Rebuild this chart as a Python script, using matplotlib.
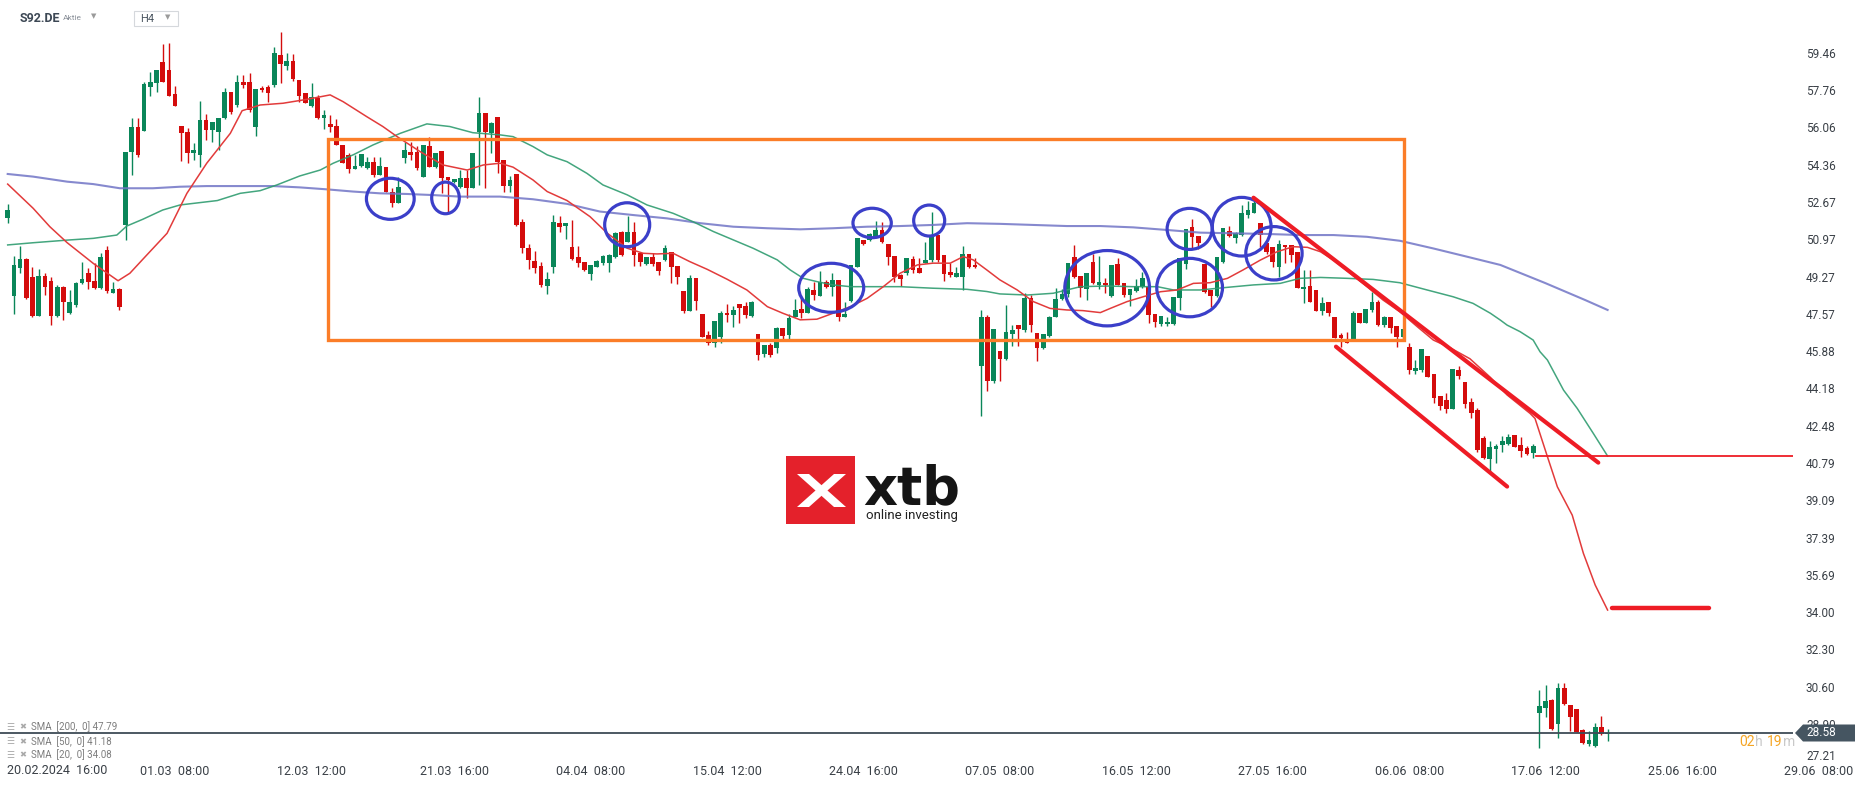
import matplotlib
matplotlib.use("Agg")
import matplotlib.pyplot as plt
from matplotlib.patches import Rectangle, Ellipse, Polygon
import numpy as np

plt.rcParams['font.family'] = ['Roboto', 'DejaVu Sans']

# S92.DE H4 candles (index 0 = first candle on the left)
opens = [51.99, 48.46, 49.72, 50.13, 49.34, 47.55, 49.37, 49.14, 47.55, 48.88,
         47.70, 48.05, 49.03, 49.49, 49.14, 48.81, 50.55, 48.61, 48.76, 51.69,
         55.03, 56.13, 55.98, 57.99, 58.17, 59.12, 58.74, 57.65, 56.20, 55.92,
         54.95, 54.88, 56.47, 56.01, 55.94, 56.54, 57.76, 57.15, 58.21, 58.21,
         56.13, 57.91, 57.99, 58.06, 59.43, 58.94, 59.15, 58.29, 57.68, 57.10,
         57.45, 56.57, 56.29, 56.20, 55.33, 54.88, 54.22, 54.39, 54.27, 54.54,
         53.97, 54.35, 53.21, 52.68, 54.72, 55.03, 55.03, 53.89, 55.28, 54.35,
         55.06, 53.86, 53.66, 53.43, 53.81, 53.36, 55.94, 56.77, 55.86, 56.62,
         54.65, 53.47, 54.01, 51.81, 50.63, 50.05, 49.82, 48.93, 49.79, 51.77,
         51.66, 50.67, 50.22, 50.02, 49.46, 49.79, 49.95, 49.98, 50.22, 51.36,
         50.93, 51.36, 50.43, 49.92, 50.22, 49.99, 50.10, 50.48, 49.82, 48.70,
         47.79, 49.26, 47.64, 46.68, 46.30, 46.61, 47.70, 47.59, 48.09, 48.02,
         47.55, 46.73, 45.82, 46.23, 46.11, 47.02, 46.68, 47.52, 47.87, 47.70,
         48.73, 48.46, 49.08, 48.85, 49.19, 47.52, 48.25, 49.79, 51.01, 51.01,
         51.11, 51.46, 50.82, 50.28, 49.41, 49.49, 50.13, 49.72, 49.98, 50.10,
         51.24, 50.32, 49.57, 49.34, 49.34, 50.37, 49.87, 45.27, 47.52, 44.60,
         45.97, 45.59, 46.73, 47.13, 46.91, 48.35, 46.76, 46.07, 46.63, 47.51,
         48.30, 48.55, 50.21, 49.36, 48.76, 50.02, 48.96, 49.03, 48.46, 49.90,
         49.03, 48.50, 48.70, 48.85, 48.85, 47.64, 47.18, 47.18, 47.18, 48.35,
         49.91, 51.58, 51.19, 49.91, 48.73, 48.47, 50.02, 51.43, 51.08, 51.23,
         52.14, 52.25, 51.76, 50.88, 50.67, 49.76, 50.78, 50.78, 50.47, 48.76,
         48.91, 48.73, 47.79, 48.20, 47.51, 46.68, 46.48, 46.48, 47.67, 47.24,
         47.82, 48.20, 47.13, 47.48, 47.09, 46.57, 46.15, 45.06, 45.09, 45.72,
         44.90, 43.90, 43.72, 43.29, 45.08, 44.55, 43.64, 43.26, 42.00, 41.05,
         41.49, 41.67, 41.72, 42.12, 41.67, 41.52, 41.29, 29.49, 29.69, 30.07,
         28.96, 30.60, 29.84, 29.64, 28.70, 28.05, 27.99, 28.85, 28.52]
highs = [52.64, 50.28, 50.73, 50.20, 49.79, 49.67, 49.49, 49.34, 48.96, 48.90,
         48.73, 49.11, 50.02, 49.72, 49.94, 50.40, 50.73, 49.11, 48.81, 55.00,
         56.54, 56.54, 58.21, 58.67, 58.74, 59.93, 59.99, 58.02, 56.20, 56.09,
         55.41, 57.35, 56.74, 56.39, 56.54, 57.91, 57.76, 58.52, 58.52, 58.62,
         57.88, 58.00, 58.06, 59.81, 60.49, 59.50, 59.46, 58.29, 57.68, 58.17,
         57.60, 56.92, 56.70, 56.50, 55.33, 54.95, 54.88, 54.92, 54.80, 54.80,
         54.80, 54.35, 53.36, 53.89, 55.48, 55.48, 55.28, 55.33, 55.71, 54.95,
         55.06, 53.86, 53.77, 54.19, 54.19, 54.95, 57.53, 56.77, 56.39, 56.62,
         54.65, 53.92, 54.01, 51.95, 50.82, 50.51, 50.02, 49.57, 52.14, 52.10,
         51.77, 51.92, 50.73, 50.02, 49.87, 50.10, 50.32, 50.37, 51.39, 51.43,
         52.10, 51.81, 50.43, 50.22, 50.40, 50.02, 50.78, 50.48, 49.82, 48.70,
         49.41, 49.26, 47.64, 46.84, 47.34, 47.75, 48.09, 48.00, 48.09, 48.20,
         48.23, 46.73, 46.23, 46.30, 47.06, 47.02, 47.62, 48.31, 48.43, 48.85,
         49.11, 49.60, 49.19, 49.52, 49.19, 48.16, 49.87, 51.08, 51.01, 51.34,
         51.89, 51.81, 50.82, 50.28, 49.46, 50.17, 50.28, 50.17, 50.93, 52.30,
         51.24, 50.32, 49.98, 49.79, 50.73, 50.37, 50.17, 47.82, 47.59, 46.95,
         45.97, 48.05, 47.13, 47.13, 48.61, 48.50, 46.76, 46.72, 47.54, 48.80,
         48.76, 49.97, 50.78, 49.36, 49.49, 50.37, 50.28, 49.26, 49.87, 50.17,
         49.03, 48.76, 49.21, 49.56, 48.85, 47.64, 47.54, 47.51, 48.42, 50.17,
         51.49, 51.96, 51.19, 49.91, 48.73, 50.21, 51.53, 51.64, 51.38, 52.60,
         52.79, 52.90, 51.76, 50.88, 50.67, 51.00, 50.78, 50.78, 50.47, 49.64,
         49.64, 48.73, 48.42, 48.20, 47.51, 46.79, 46.83, 47.77, 47.67, 47.85,
         48.65, 48.27, 47.54, 47.48, 47.09, 46.94, 46.30, 45.54, 46.04, 45.72,
         44.90, 43.90, 44.02, 45.13, 45.27, 44.55, 43.79, 43.34, 42.08, 41.87,
         41.72, 42.08, 42.17, 42.12, 42.05, 41.62, 41.72, 30.52, 30.75, 30.10,
         30.86, 30.86, 29.84, 29.64, 28.73, 28.66, 29.00, 29.35, 28.76]
lows = [51.80, 47.64, 49.50, 48.30, 47.52, 47.55, 48.50, 47.14, 47.52, 47.37,
        47.64, 47.97, 49.00, 48.76, 48.76, 48.76, 48.61, 48.58, 47.82, 51.01,
        53.96, 54.80, 55.98, 57.56, 57.76, 58.21, 57.56, 57.10, 54.62, 54.53,
        54.65, 54.34, 55.56, 55.48, 55.10, 56.51, 56.74, 57.04, 57.91, 56.85,
        55.74, 57.76, 57.30, 57.99, 58.17, 58.74, 58.26, 57.30, 57.23, 57.04,
        56.50, 56.06, 55.94, 55.33, 54.50, 54.04, 54.22, 54.35, 54.22, 53.89,
        53.97, 53.20, 52.52, 52.68, 54.53, 54.65, 54.19, 53.89, 54.35, 54.27,
        53.16, 52.22, 53.59, 53.36, 52.90, 53.36, 53.51, 53.36, 54.95, 54.04,
        53.21, 53.21, 51.64, 50.40, 49.69, 49.52, 48.88, 48.55, 49.52, 51.39,
        51.04, 50.10, 49.79, 49.61, 49.19, 49.76, 49.87, 49.57, 50.17, 50.28,
        50.90, 49.84, 49.84, 49.87, 49.82, 49.41, 50.07, 49.04, 49.00, 47.67,
        47.79, 47.82, 46.61, 46.23, 46.15, 46.30, 47.29, 47.06, 47.21, 47.44,
        47.52, 45.52, 45.67, 45.67, 45.85, 46.49, 46.49, 47.49, 47.44, 47.70,
        48.28, 48.46, 48.81, 48.46, 47.34, 47.49, 48.20, 49.76, 50.78, 50.98,
        51.08, 50.89, 49.87, 49.11, 48.91, 49.41, 49.52, 49.49, 49.98, 50.02,
        50.02, 49.16, 49.34, 49.31, 48.73, 49.72, 49.72, 43.00, 44.15, 44.51,
        44.60, 45.54, 46.19, 46.19, 46.83, 46.83, 45.51, 46.03, 46.60, 47.48,
        48.27, 48.42, 49.26, 48.42, 48.27, 49.00, 48.76, 48.58, 48.42, 48.96,
        48.42, 48.01, 48.65, 48.80, 47.21, 47.06, 47.09, 47.09, 47.13, 47.82,
        49.67, 50.62, 50.58, 48.61, 47.94, 48.42, 49.97, 51.13, 50.88, 51.19,
        51.99, 52.22, 50.70, 50.37, 49.79, 49.33, 49.94, 50.02, 48.80, 48.12,
        48.20, 47.79, 47.59, 47.54, 46.53, 46.12, 46.30, 46.48, 47.24, 47.21,
        47.74, 47.09, 47.06, 46.79, 46.15, 46.53, 44.90, 44.90, 45.01, 44.75,
        43.60, 43.27, 43.14, 43.29, 44.66, 43.34, 42.88, 41.37, 41.05, 40.46,
        40.87, 41.37, 41.67, 41.59, 41.14, 41.22, 41.09, 27.90, 29.31, 28.70,
        28.35, 29.84, 28.67, 28.60, 28.05, 27.99, 27.94, 28.47, 28.20]
closes = [52.37, 49.87, 50.13, 48.38, 47.55, 49.37, 48.88, 47.55, 48.88, 48.20,
          48.17, 49.03, 49.23, 49.11, 48.81, 50.22, 48.70, 48.76, 47.94, 55.00,
          56.13, 54.88, 58.11, 58.21, 58.74, 58.21, 57.56, 57.12, 55.86, 54.95,
          55.10, 56.47, 56.01, 56.39, 56.54, 57.76, 56.85, 58.21, 58.06, 56.92,
          57.88, 57.83, 57.68, 59.50, 59.00, 59.15, 58.32, 57.56, 57.26, 57.53,
          56.54, 56.68, 56.17, 55.33, 54.53, 54.22, 54.39, 54.92, 54.54, 53.97,
          54.39, 53.21, 52.68, 53.43, 55.10, 54.88, 54.27, 55.33, 54.35, 54.95,
          53.81, 53.74, 53.77, 53.81, 53.36, 54.95, 56.77, 55.94, 56.35, 54.57,
          53.47, 53.74, 51.69, 50.63, 50.10, 49.75, 48.96, 49.22, 51.81, 51.61,
          51.77, 50.14, 49.98, 49.64, 49.87, 50.05, 50.28, 50.32, 51.31, 50.32,
          51.36, 50.30, 50.02, 50.22, 49.92, 49.61, 50.63, 49.79, 49.34, 47.79,
          49.26, 48.25, 46.61, 46.30, 47.34, 47.70, 47.59, 47.82, 47.93, 47.59,
          48.16, 45.77, 46.23, 45.77, 46.99, 46.64, 47.44, 47.82, 47.70, 48.78,
          48.50, 49.11, 48.85, 49.19, 47.52, 47.64, 49.87, 51.08, 50.81, 51.28,
          51.46, 50.93, 50.22, 49.34, 49.22, 50.17, 49.64, 49.52, 50.10, 51.24,
          50.10, 49.46, 49.41, 49.49, 50.37, 49.79, 49.76, 47.52, 44.60, 46.95,
          45.59, 46.82, 46.91, 46.95, 48.35, 47.13, 46.07, 46.72, 47.51, 48.32,
          48.55, 49.97, 49.33, 48.80, 49.49, 49.03, 49.09, 48.96, 49.87, 48.96,
          48.50, 48.76, 48.91, 49.26, 47.59, 47.29, 47.54, 47.29, 48.42, 50.17,
          51.49, 51.13, 50.88, 48.65, 48.47, 50.21, 51.53, 51.19, 51.31, 52.25,
          52.37, 52.67, 51.23, 50.47, 50.02, 50.81, 50.67, 50.32, 48.80, 48.88,
          48.20, 47.79, 48.15, 47.67, 46.53, 46.53, 46.30, 47.70, 47.24, 47.85,
          48.20, 47.13, 47.51, 46.98, 46.57, 46.94, 45.09, 45.16, 46.04, 44.75,
          43.80, 43.45, 43.29, 45.13, 44.81, 43.54, 43.14, 41.44, 41.09, 41.59,
          41.64, 41.87, 42.05, 41.59, 41.40, 41.26, 41.62, 29.79, 30.02, 28.73,
          30.60, 29.87, 29.28, 28.63, 28.10, 28.25, 28.85, 28.52, 28.58]

# moving averages (candle index, value)
sma20_idx = [0, 4.1, 6.8, 9.6, 13.8, 17.8, 19.7, 21.8, 25.7, 28.9, 32.1, 35.9, 37.8,
             40.7, 44.4, 48.3, 52.0, 54.1, 57.9, 60.5, 62.8, 66.5, 70.2, 74.1, 76.7,
             79.4, 81.5, 84.7, 87.0, 90.2, 93.9, 96.7, 99.9, 102.5, 104.7, 107.3,
             110.0, 112.8, 116.0, 119.2, 122.5, 125.0, 127.8, 130.5, 133.1, 135.9,
             138.6, 141.2, 143.9, 146.7, 149.2, 152.0, 154.1, 155.7, 157.9, 160.0,
             162.8, 165.4, 168.1, 170.8, 173.4, 176.2, 177.8, 180.5, 183.1, 185.9,
             188.6, 191.2, 193.9, 196.7, 199.2, 202.0, 204.7, 207.3, 209.6, 211.7,
             213.8, 216.5, 219.2, 221.8, 224.5, 227.3, 229.9, 232.6, 235.8, 239.1,
             241.8, 245.5, 246.3, 248.3, 249.9, 252.3, 254.1, 256.0, 258.0]
sma20_val = [53.55, 52.45, 51.61, 50.88, 49.94, 49.15, 49.49, 50.13, 51.31, 53.13,
             54.50, 55.86, 56.89, 57.15, 57.23, 57.41, 57.61, 57.30, 56.62, 56.17,
             55.71, 55.03, 54.42, 54.19, 54.42, 54.50, 54.32, 53.74, 53.21, 52.80,
             52.07, 51.31, 50.63, 50.40, 50.37, 50.40, 50.02, 49.67, 49.22, 48.73,
             47.97, 47.67, 47.37, 47.40, 47.67, 47.97, 48.35, 48.88, 49.49, 49.87,
             49.95, 49.95, 50.25, 50.10, 49.64, 49.19, 48.73, 48.20, 47.89, 47.82,
             47.79, 47.70, 47.89, 48.20, 48.42, 48.65, 48.73, 49.03, 49.06, 49.26,
             49.64, 50.09, 50.47, 50.70, 50.67, 50.47, 50.09, 49.49, 48.88, 48.27,
             47.74, 47.06, 46.45, 46.10, 45.60, 44.75, 43.95, 43.11, 42.88, 41.14,
             39.77, 38.48, 36.74, 35.30, 34.16]
sma50_idx = [0, 4.1, 9.6, 13.8, 17.6, 19.2, 21.8, 25.0, 27.8, 33.8, 37.5, 40.7, 43.4,
             47.1, 50.4, 52.5, 55.7, 58.9, 63.3, 67.6, 71.3, 75.0, 79.4, 81.5, 84.7,
             87.0, 90.2, 93.4, 96.0, 99.9, 103.1, 107.3, 110.5, 113.8, 117.0, 120.2,
             124.1, 126.2, 128.3, 130.5, 133.1, 135.9, 138.6, 143.9, 149.2, 154.7,
             157.9, 160.0, 164.4, 168.6, 173.0, 177.3, 181.5, 185.4, 188.0, 192.3,
             196.7, 200.9, 205.2, 208.4, 211.7, 216.0, 220.2, 224.5, 228.9, 233.1,
             236.3, 239.1, 240.7, 241.8, 243.9, 246.0, 247.1, 248.3, 250.9, 253.1,
             255.7, 258.0]
sma50_val = [50.78, 50.88, 51.00, 51.08, 51.23, 51.64, 51.95, 52.37, 52.60, 52.80,
             53.13, 53.25, 53.51, 53.92, 54.19, 54.50, 54.88, 55.33, 55.86, 56.29,
             56.17, 55.89, 55.79, 55.71, 55.26, 54.88, 54.57, 54.04, 53.51, 53.06,
             52.60, 52.22, 51.84, 51.39, 51.01, 50.63, 50.10, 49.64, 49.26, 49.11,
             48.96, 48.88, 48.88, 48.88, 48.81, 48.76, 48.66, 48.55, 48.50, 48.58,
             48.88, 48.91, 48.88, 48.88, 48.73, 48.73, 48.85, 48.96, 49.03, 49.26,
             49.30, 49.26, 49.21, 49.06, 48.73, 48.42, 48.12, 47.67, 47.36, 47.13,
             46.83, 46.45, 45.92, 45.54, 44.17, 43.34, 42.20, 41.17]
sma200_idx = [0, 4.1, 9.6, 13.8, 18.1, 23.4, 27.8, 32.1, 37.5, 42.8, 47.1, 51.5, 55.7,
              60.0, 64.4, 68.6, 72.9, 79.4, 84.7, 90.2, 95.5, 100.9, 106.3, 111.7,
              117.0, 122.5, 127.8, 133.1, 138.6, 143.9, 149.2, 154.7, 160.0, 165.4,
              170.8, 176.2, 181.5, 187.0, 192.3, 197.6, 203.1, 208.4, 213.8, 219.2,
              224.5, 229.9, 235.4, 240.7, 247.9, 254.4, 258.0]
sma200_val = [54.01, 53.89, 53.66, 53.55, 53.36, 53.36, 53.43, 53.46, 53.46, 53.46,
              53.40, 53.31, 53.21, 53.13, 53.10, 53.05, 52.98, 52.98, 52.86, 52.65,
              52.30, 52.14, 51.99, 51.77, 51.61, 51.54, 51.49, 51.54, 51.61, 51.64,
              51.69, 51.77, 51.74, 51.69, 51.64, 51.64, 51.58, 51.46, 51.34, 51.31,
              51.28, 51.23, 51.23, 51.15, 50.97, 50.62, 50.24, 49.87, 49.05, 48.27,
              47.82]

# hand drawn markup on the chart (candle index / price)
range_box = (51.7, 225.1, 46.45, 55.59)
circles = [(61.7, 52.88, 7.7, 1.87), (70.6, 52.92, 4.45, 1.44), (99.9, 51.70, 7.26, 2.0),
           (139.4, 51.78, 6.18, 1.34), (148.6, 51.89, 5.0, 1.41), (132.8, 48.83, 10.48, 2.23),
           (177.3, 48.81, 13.66, 3.43), (190.6, 48.84, 10.6, 2.66), (190.6, 51.51, 7.26, 1.87),
           (199.0, 51.61, 9.47, 2.67), (204.2, 50.40, 9.08, 2.43)]
channel_top = ([200.9, 256.5], [52.93, 40.87])
channel_bot = ([214.2, 241.8], [46.15, 39.78])
level_line = (246.5, 41.17)
target_line = ([258.7, 274.3], 34.24)

last_price = 28.58
price_ticks = [59.46, 57.76, 56.06, 54.36, 52.67, 50.97, 49.27, 47.57, 45.88, 44.18,
               42.48, 40.79, 39.09, 37.39, 35.69, 34.00, 32.30, 30.60, 28.90, 27.21]
date_labels = ['01.03  08:00', '12.03  12:00', '21.03  16:00', '04.04  08:00',
               '15.04  12:00', '24.04  16:00', '07.05  08:00', '16.05  12:00',
               '27.05  16:00', '06.06  08:00', '17.06  12:00', '25.06  16:00',
               '29.06  08:00']
date_idx = [27, 49, 72, 94, 116, 138, 160, 182, 204, 226, 248, 270, 292]
sma_legend = ['SMA  [200,  0] 47.79', 'SMA  [50,  0] 41.18', 'SMA  [20,  0] 34.08']

GREEN = '#0a8659'
RED = '#d40c0c'
TXT = '#3a4047'

W, H = 1866, 787
fig = plt.figure(figsize=(W / 100, H / 100), dpi=100)
fig.patch.set_facecolor('white')


def fx(px):
    return px / W


def fy(py):
    return 1 - py / H


ax = fig.add_axes([0, 30 / H, 1793 / W, 757 / H])
ax.set_xlim(-1.24, 287.9)
ax.set_ylim(27.47, 61.93)
ax.axis('off')

o = np.array(opens)
h = np.array(highs)
l = np.array(lows)
c = np.array(closes)
x = np.arange(len(o))
cols = np.where(c >= o, GREEN, RED)
ax.vlines(x, l, h, colors=cols, lw=1.0, zorder=2)
ax.bar(x, np.maximum(np.abs(c - o), 0.06), 0.76, bottom=np.minimum(o, c),
       color=cols, linewidth=0, zorder=3)

ax.plot(sma200_idx, sma200_val, color='#7175c6', lw=1.5, alpha=0.85, zorder=4)
ax.plot(sma50_idx, sma50_val, color='#2f9c70', lw=1.1, alpha=0.9, zorder=4)
ax.plot(sma20_idx, sma20_val, color='#e23b3b', lw=1.1, zorder=4)

ax.axhline(last_price, color='#3e4b56', lw=1.3, zorder=4)

# markup
x0, x1, y0, y1 = range_box
ax.add_patch(Rectangle((x0, y0), x1 - x0, y1 - y0, fill=False, ec='#fb7d28', lw=2.4, zorder=6))
for cx, cy, w, hh in circles:
    ax.add_patch(Ellipse((cx, cy), w, hh, fill=False, ec='#3b3fc9', lw=2.3, zorder=6))
ax.plot(*channel_top, color='#ee1c25', lw=3.0, solid_capstyle='round', zorder=6)
ax.plot(*channel_bot, color='#ee1c25', lw=3.0, solid_capstyle='round', zorder=6)
ax.plot([level_line[0], 287.9], [level_line[1]] * 2, color='#ee1c25', lw=1.3, zorder=6)
ax.plot(target_line[0], [target_line[1]] * 2, color='#ee1c25', lw=3.2,
        solid_capstyle='round', zorder=6)

# price scale (the lowest label sits on the bottom edge, 28.90 hides behind the tag)
for t in price_ticks:
    ax.text(1806 / 1793, max(t, 27.50), f'{t:.2f}', transform=ax.get_yaxis_transform(),
            ha='left', va='center', fontsize=8.5, color=TXT, clip_on=False, zorder=1)

# time scale
for lab, i in zip(date_labels, date_idx):
    ax.text(i, -0.0185, lab, transform=ax.get_xaxis_transform(), ha='center', va='center',
            fontsize=9, color=TXT, clip_on=False)
fig.text(fx(7), fy(771), '20.02.2024  16:00', ha='left', va='center', fontsize=9, color=TXT)

# last price tag
tag = Polygon([(fx(1795), fy(733)), (fx(1803), fy(724.5)), (fx(1855), fy(724.5)),
               (fx(1855), fy(741.5)), (fx(1803), fy(741.5))],
              closed=True, transform=fig.transFigure, fc='#455561', ec='none', zorder=10)
fig.patches.append(tag)
fig.text(fx(1806), fy(733), f'{last_price:.2f}', ha='left', va='center', fontsize=8.5,
         color='white', zorder=11)
for s, px, col in [('02', 1739, '#f5a524'), ('h', 1755, '#c9c9c9'),
                   ('19', 1767, '#f5a524'), ('m', 1783, '#c9c9c9')]:
    fig.text(fx(px), fy(742), s, ha='left', va='center', fontsize=10, color=col)

# indicator legend
for k, lab in enumerate(sma_legend):
    yy = [727, 742, 755][k]
    fig.text(fx(6), fy(yy), '\u2630', ha='left', va='center', fontsize=6.5,
             color='#a9a9a9', family='DejaVu Sans')
    fig.text(fx(19), fy(yy), '\u2716', ha='left', va='center', fontsize=6,
             color='#a9a9a9', family='DejaVu Sans')
    fig.text(fx(31), fy(yy), lab, ha='left', va='center', fontsize=7, color='#7d7d7d')

# header
fig.text(fx(20), fy(18), 'S92.DE', ha='left', va='center', fontsize=9, fontweight='bold',
         color='#3d4855')
fig.text(fx(63), fy(18), 'Aktie', ha='left', va='center', fontsize=6, color='#8a9099')
fig.text(fx(91), fy(16), '\u25bc', ha='left', va='center', fontsize=5, color='#9a9a9a',
         family='DejaVu Sans')
hbox = Rectangle((fx(134), fy(26)), fx(44), 15 / H, transform=fig.transFigure,
                 fc='white', ec='#d5d8dc', lw=0.8)
fig.patches.append(hbox)
fig.text(fx(140), fy(19.5), 'H4', ha='left', va='center', fontsize=8, color='#4a5560')
fig.text(fx(165), fy(17), '\u25bc', ha='left', va='center', fontsize=5, color='#9a9a9a',
         family='DejaVu Sans')

# watermark logo
fig.patches.append(Rectangle((fx(786), fy(524)), fx(69), 68 / H, transform=fig.transFigure,
                             fc='#e4212b', ec='none', zorder=1))
for pts in ([(797, 474), (809, 474), (846, 507), (834, 507)],
            [(797, 507), (809, 507), (846, 474), (834, 474)]):
    fig.patches.append(Polygon([(fx(a), fy(b)) for a, b in pts], closed=True,
                               transform=fig.transFigure, fc='white', ec='none', zorder=2))
fig.text(fx(863), fy(504), 'xtb', ha='left', va='baseline', fontsize=38, fontweight='bold',
         color='#151515', family='DejaVu Sans')
fig.text(fx(866), fy(515), 'online investing', ha='left', va='center', fontsize=9.5,
         color='#222222')

fig.savefig('out.png', dpi=100)
